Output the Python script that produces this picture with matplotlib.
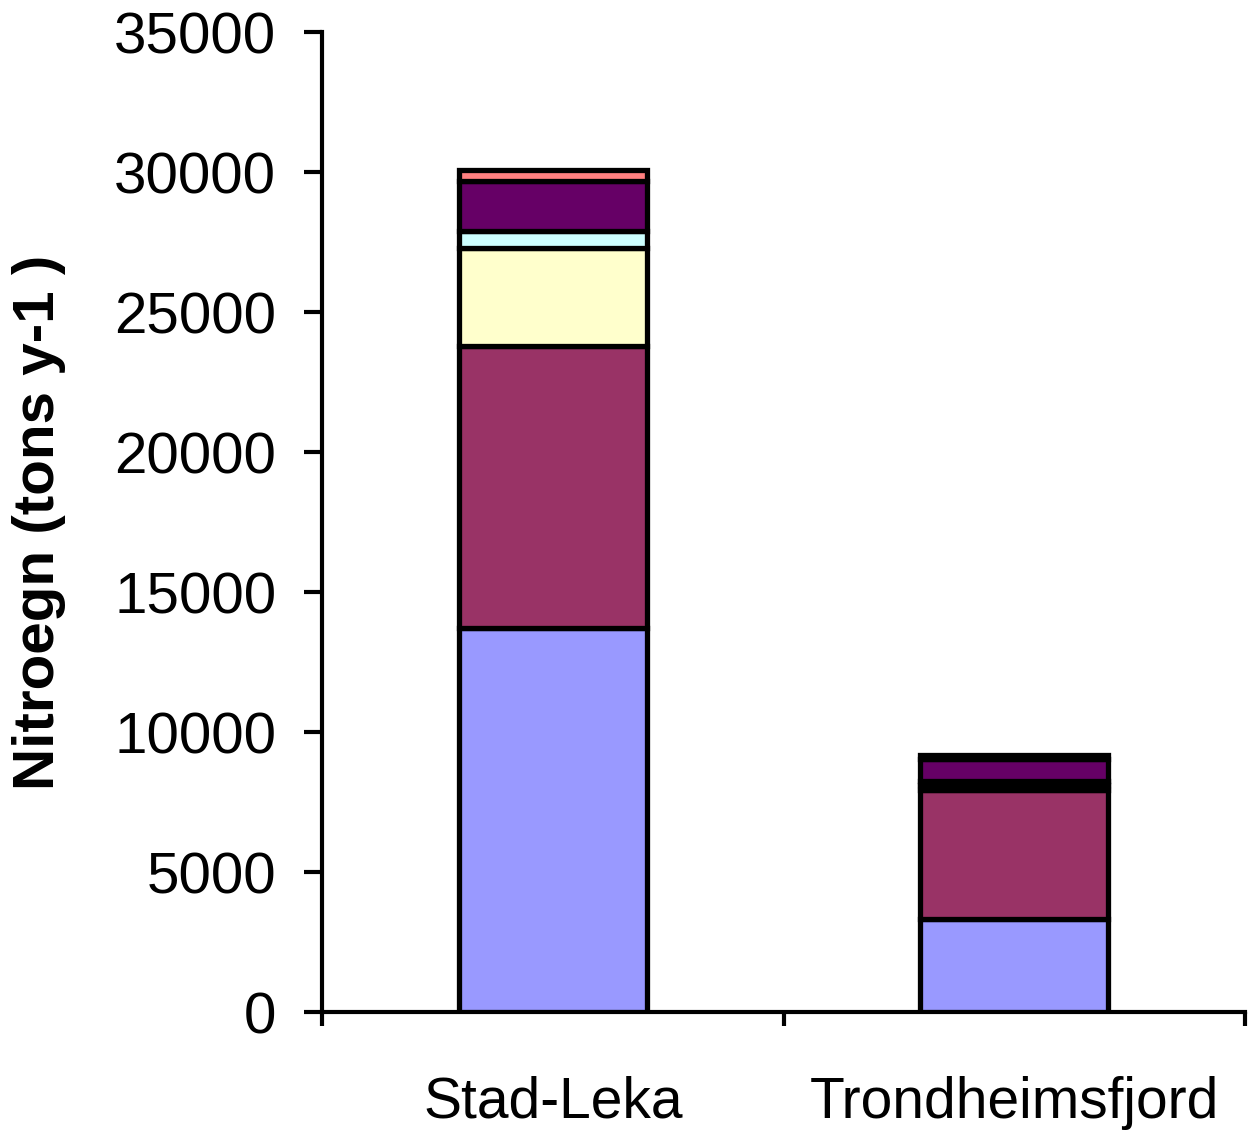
import matplotlib
matplotlib.use("Agg")
import matplotlib.pyplot as plt
import numpy as np

categories = ["Stad-Leka", "Trondheimsfjord"]
series_colors = ["#9999FF", "#993366", "#FFFFCC", "#CCFFFF", "#660066", "#FF8080"]
s1 = [13710, 3320]
s2 = [10080, 4600]
s3 = [3510, 170]
s4 = [600, 170]
s5 = [1780, 770]
s6 = [390, 160]
series = [s1, s2, s3, s4, s5, s6]
yticks = [0, 5000, 10000, 15000, 20000, 25000, 30000, 35000]

plt.rcParams['font.family'] = ['Liberation Sans', 'DejaVu Sans']
fig = plt.figure(figsize=(12.52, 11.39), dpi=100)
ax = fig.add_axes([0.2572, 0.1115, 0.7372, 0.8604])

x = np.arange(len(categories))
bottom = np.zeros(len(categories))
for vals, c in zip(series, series_colors):
    ax.bar(x, vals, bottom=bottom, width=0.407, color=c, edgecolor='black', linewidth=3.8, zorder=3)
    bottom += np.array(vals)

ax.set_xlim(-0.5, 1.5)
ax.set_ylim(0, 35000)
ax.set_yticks(yticks)
ax.set_yticklabels([str(v) for v in yticks], fontsize=42)
ax.set_xticks([-0.5, 0.5, 1.5])
ax.set_xticklabels([])
ax.set_xticks(x, minor=True)
ax.set_xticklabels(categories, minor=True, fontsize=41)
ax.tick_params(axis='x', which='minor', length=0, pad=46)
ax.tick_params(axis='x', which='major', length=10, width=3, direction='out')
ax.tick_params(axis='y', which='major', length=13, width=3, direction='out', pad=20)
for s in ['top', 'right']:
    ax.spines[s].set_visible(False)
for s in ['left', 'bottom']:
    ax.spines[s].set_linewidth(3)
ax.set_ylabel("Nitroegn (tons y-1 )", fontsize=42, fontweight='bold')
ax.yaxis.set_label_coords(-0.277, 0.5)

fig.savefig("out.png", dpi=100)
